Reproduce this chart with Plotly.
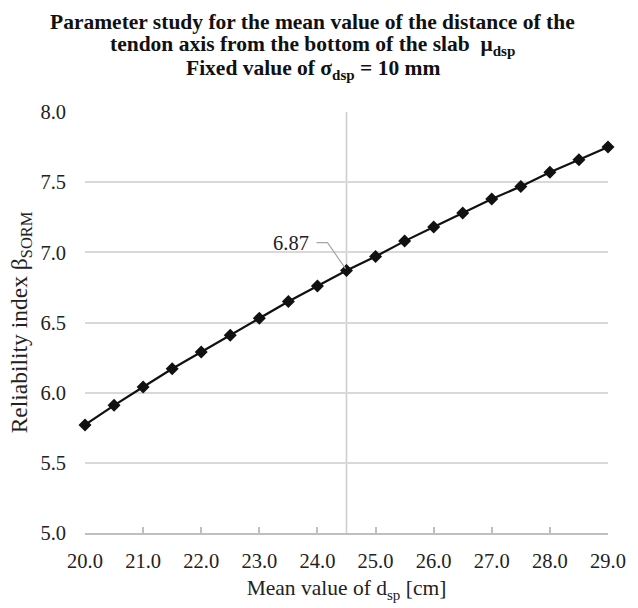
import plotly.graph_objects as go

# Mean value of the tendon axis distance d_sp [cm]
d_sp = [20.0, 20.5, 21.0, 21.5, 22.0, 22.5, 23.0, 23.5, 24.0, 24.5,
        25.0, 25.5, 26.0, 26.5, 27.0, 27.5, 28.0, 28.5, 29.0]
# Reliability index beta_SORM for each mean value
beta_sorm = [5.77, 5.91, 6.04, 6.17, 6.29, 6.41, 6.53, 6.65, 6.76, 6.87,
             6.97, 7.08, 7.18, 7.28, 7.38, 7.47, 7.57, 7.66, 7.75]

x_ticks = [20, 21, 22, 23, 24, 25, 26, 27, 28, 29]
x_ticklabels = [f"{v:.1f}" for v in x_ticks]
y_ticks = [5.0, 5.5, 6.0, 6.5, 7.0, 7.5, 8.0]
y_ticklabels = [f"{v:.1f}" for v in y_ticks]

ref_index = d_sp.index(24.5)  # design value, highlighted and labelled

FONT = "Liberation Serif, Times New Roman, serif"
GRID = "#d9d9d9"

W, H = 638, 608
M_L, M_R, M_T, M_B = 85, 22, 112, 70
PLOT_W, PLOT_H = W - M_L - M_R, H - M_T - M_B

title_lines = [
    "Parameter study for the mean value of the distance of the",
    "tendon axis from the bottom of the slab  μ<sub>dsp</sub>",
    "Fixed value of σ<sub>dsp</sub> = 10 mm",
]

fig = go.Figure()

fig.add_trace(go.Scatter(
    x=d_sp, y=beta_sorm,
    mode="lines+markers",
    line=dict(color="#111111", width=2.2),
    marker=dict(symbol="diamond", size=10, color="#111111"),
    cliponaxis=False,
    showlegend=False,
))

# vertical reference line at the design value
fig.add_shape(type="line", xref="x", yref="y",
              x0=d_sp[ref_index], x1=d_sp[ref_index],
              y0=y_ticks[0], y1=y_ticks[-1],
              line=dict(color="#cfcfcf", width=1.6), layer="below")

# leader line for the data label
fig.add_shape(type="path", xref="x", yref="y",
              xsizemode="pixel", ysizemode="pixel",
              xanchor=d_sp[ref_index], yanchor=beta_sorm[ref_index],
              path="M -1,2 L -19,28 L -30,28",
              line=dict(color="#a6a6a6", width=1.2))

fig.add_annotation(x=d_sp[ref_index], y=beta_sorm[ref_index],
                   text=f"{beta_sorm[ref_index]:.2f}",
                   showarrow=False, xanchor="right", yanchor="middle",
                   xshift=-36, yshift=28,
                   font=dict(family=FONT, size=20.5, color="#222222"))

# three-line bold heading, one line per annotation for exact spacing
for i, line in enumerate(title_lines):
    y_px = 21 + 24 * i  # line centre, from the top of the page
    fig.add_annotation(xref="paper", yref="paper",
                       x=(W / 2 - 3 - M_L) / PLOT_W,
                       y=(H - M_B - y_px) / PLOT_H,
                       text=f"<b>{line}</b>", showarrow=False,
                       xanchor="center", yanchor="middle",
                       font=dict(family=FONT, size=21.5, color="#111111"))

fig.update_layout(
    width=W, height=H,
    paper_bgcolor="white", plot_bgcolor="white",
    margin=dict(l=M_L, r=M_R, t=M_T, b=M_B),
    font=dict(family=FONT, color="#222222"),
    xaxis=dict(
        range=[20, 29],
        tickvals=x_ticks, ticktext=x_ticklabels,
        tickfont=dict(family=FONT, size=20.5, color="#222222"),
        showgrid=False, zeroline=False,
        showline=True, linecolor="#bfbfbf", linewidth=1.5,
        ticks="inside", ticklen=6, tickcolor="#bfbfbf", tickwidth=1.5,
        ticklabelstandoff=9,
        title=dict(text="Mean value of d<sub>sp</sub> [cm]",
                   font=dict(family=FONT, size=21.5, color="#222222"),
                   standoff=9),
    ),
    yaxis=dict(
        range=[5, 8],
        tickvals=y_ticks, ticktext=y_ticklabels,
        tickfont=dict(family=FONT, size=20.5, color="#222222"),
        showgrid=True, gridcolor=GRID, gridwidth=1.5,
        zeroline=False, showline=False, ticks="",
        ticklabelstandoff=18,
        title=dict(text="Reliability index β<sub>SORM</sub>",
                   font=dict(family=FONT, size=23.5, color="#222222"),
                   standoff=6),
    ),
)

fig.write_html("out.html")
